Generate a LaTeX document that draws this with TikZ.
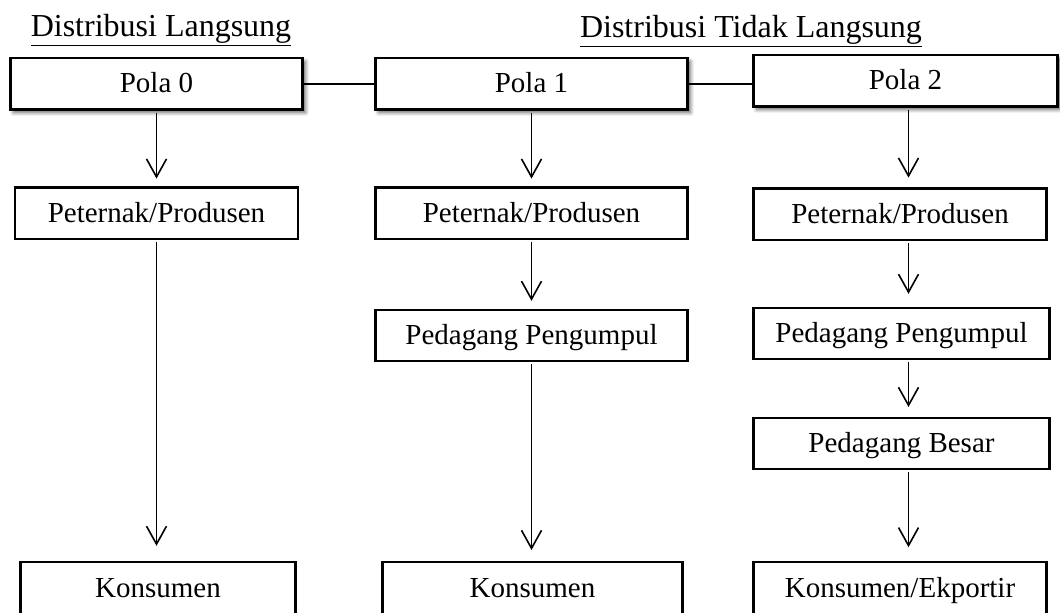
\documentclass[tikz,border=0pt]{standalone}
\usepackage{fontspec}
\setmainfont{Liberation Serif}
\usetikzlibrary{arrows.meta,positioning,shadows.blur}
\tikzset{
    %Define standard arrow tip
    >={Straight Barb[length=9pt,width=10pt]},
    %Define style for boxes
    box/.style={
           rectangle,
           draw=black, line width=1.1pt,
           minimum height=25.6pt,
           inner sep=0pt, outer sep=0pt,
           text height=11pt, text depth=2pt,
           font=\fontsize{14.5}{17}\selectfont,
           text centered},
    polabox/.style={
           box,
           fill=white,
           blur shadow={shadow xshift=1.5pt, shadow yshift=-1.5pt,
                        shadow blur steps=6, shadow opacity=60}},
    %bottom boxes run off the page
    endbox/.style={
           box,
           minimum height=29pt,
           text depth=4.5pt},
    %Define style for headings
    title/.style={
           inner sep=0pt,
           font=\fontsize{16}{19}\selectfont},
    % Define arrow style
    imply/.style={
           ->,
           line width=0.8pt,
           shorten <=1.5pt,
           shorten >=4.5pt},
    link/.style={
           line width=1.2pt}
}

\begin{document}
\begin{tikzpicture}
 \useasboundingbox (0,0) rectangle (530pt,-306.5pt);
 %nodes
    \node[polabox, minimum width=146pt] (pola0) at (78.25pt,-42pt) {Pola 0};
    \node[polabox, minimum width=156pt, right=36.5pt of pola0] (pola1) {Pola 1};
    \node[polabox, minimum width=152pt, right=33pt of pola1, yshift=1.5pt] (pola2) {Pola 2};
    \node[title, above=5.5pt of pola0, xshift=2.25pt] (langsung) {\underline{Distribusi Langsung}};
    \node[title, above=5pt of pola1.north east, xshift=31.75pt] (tidak) {\underline{Distribusi Tidak Langsung}};
 %column pola 0
    \node[box, minimum width=141.5pt, below=39pt of pola0] (prod0) {Peternak/Produsen};
    \node[endbox, minimum width=137.5pt, below=161.5pt of prod0, xshift=0.75pt] (kons0) {Konsumen};
 %column pola 1
    \node[box, minimum width=156pt, below=39pt of pola1] (prod1) {Peternak/Produsen};
    \node[box, minimum width=156pt, below=35.5pt of prod1] (peng1) {Pedagang Pengumpul};
    \node[endbox, minimum width=150pt, below=100.5pt of peng1, xshift=0.5pt] (kons1) {Konsumen};
 %column pola 2
    \node[box, minimum width=146.5pt, below=41pt of pola2.south west, anchor=north west] (prod2) {Peternak/Produsen};
    \node[box, minimum width=148pt, below=34pt of prod2.south west, anchor=north west] (peng2) {Pedagang Pengumpul};
    \node[box, minimum width=148pt, below=29.5pt of peng2.south west, anchor=north west] (besar2) {Pedagang Besar};
    \node[endbox, minimum width=146.5pt, below=46.5pt of besar2.south west, anchor=north west] (kons2) {Konsumen/Ekportir};
    \coordinate (ax2) at ([xshift=1.5pt]pola2.south);
 %edges
    \draw[link] (pola0) -- (pola1);
    \draw[link] (pola1) -- (pola1 -| pola2.west);
    \draw[imply] (pola0) -- (prod0);
    \draw[imply, shorten >=8pt] (prod0) -- (prod0 |- kons0.north);
    \draw[imply] (pola1) -- (prod1);
    \draw[imply] (prod1) -- (peng1);
    \draw[imply, shorten >=6pt] (peng1) -- (peng1 |- kons1.north);
    \draw[imply, shorten >=5.5pt] (pola2.south -| ax2) -- (prod2.north -| ax2);
    \draw[imply, shorten >=7pt] (prod2.south -| ax2) -- (peng2.north -| ax2);
    \draw[imply, shorten >=5.5pt] (peng2.south -| ax2) -- (besar2.north -| ax2);
    \draw[imply, shorten >=7.5pt] (besar2.south -| ax2) -- (kons2.north -| ax2);
\end{tikzpicture}
\end{document}
